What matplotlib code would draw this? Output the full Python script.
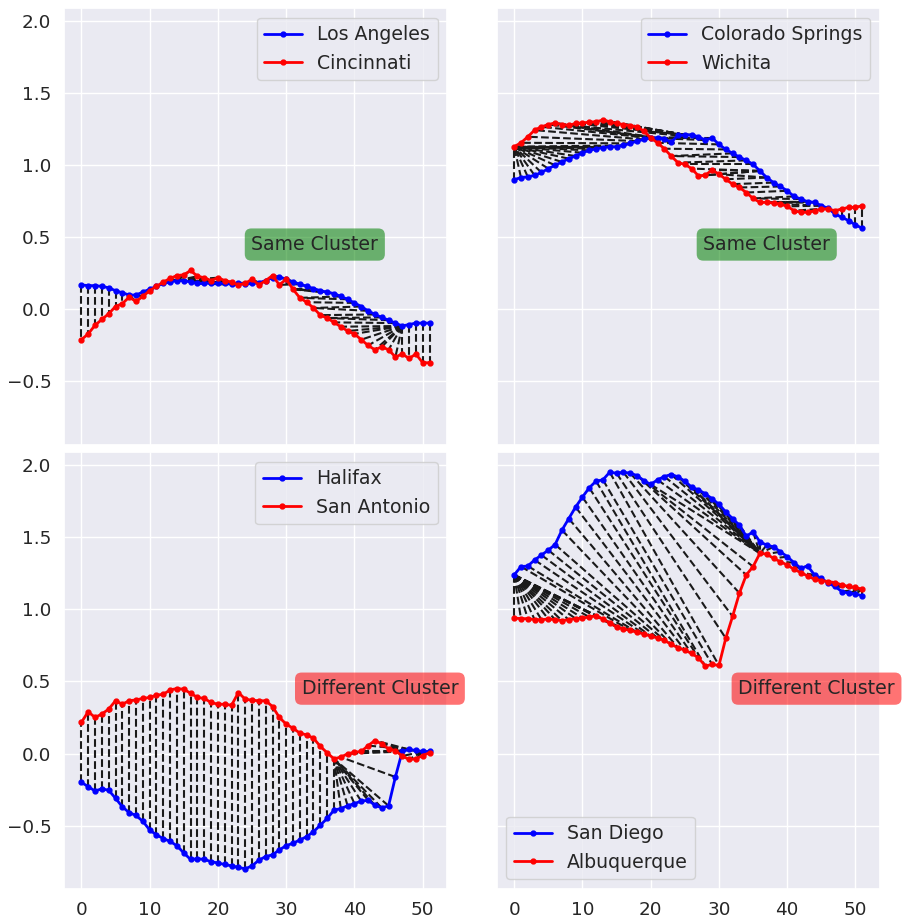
import numpy as np
import matplotlib
matplotlib.use("Agg")
import matplotlib.pyplot as plt
import seaborn as sns

# weekly normalised series, 52 points each
weeks = np.arange(52)

los_angeles = [0.17, 0.165, 0.165, 0.16, 0.15, 0.13, 0.115, 0.10, 0.10, 0.12,
               0.14, 0.16, 0.18, 0.19, 0.20, 0.20, 0.19, 0.18, 0.18, 0.185,
               0.18, 0.18, 0.175, 0.18, 0.175, 0.18, 0.185, 0.20, 0.22, 0.225,
               0.21, 0.19, 0.175, 0.16, 0.145, 0.13, 0.12, 0.11, 0.09, 0.07,
               0.045, 0.02, -0.01, -0.035, -0.055, -0.075, -0.095, -0.115, -0.105, -0.095,
               -0.095, -0.095]
cincinnati = [-0.21, -0.17, -0.11, -0.07, -0.03, 0.02, 0.04, 0.085, 0.055, 0.09,
              0.13, 0.16, 0.19, 0.215, 0.235, 0.24, 0.27, 0.23, 0.22, 0.20,
              0.22, 0.20, 0.19, 0.17, 0.18, 0.21, 0.17, 0.20, 0.235, 0.17,
              0.21, 0.14, 0.08, 0.05, 0.01, -0.04, -0.06, -0.09, -0.12, -0.15,
              -0.17, -0.21, -0.25, -0.28, -0.26, -0.28, -0.33, -0.31, -0.34, -0.31,
              -0.37, -0.37]

colorado_springs = [0.90, 0.915, 0.92, 0.93, 0.95, 0.977, 1.0, 1.023, 1.046, 1.064,
                    1.087, 1.103, 1.115, 1.122, 1.129, 1.129, 1.138, 1.152, 1.168, 1.179,
                    1.19, 1.19, 1.184, 1.16, 1.207, 1.211, 1.211, 1.198, 1.175, 1.19,
                    1.145, 1.11, 1.083, 1.057, 1.034, 1.007, 0.961, 0.915, 0.88, 0.853,
                    0.823, 0.784, 0.766, 0.747, 0.743, 0.72, 0.701, 0.662, 0.639, 0.616,
                    0.586, 0.563]
wichita = [1.129, 1.156, 1.198, 1.244, 1.267, 1.283, 1.294, 1.283, 1.278, 1.29,
           1.294, 1.299, 1.303, 1.313, 1.303, 1.29, 1.283, 1.276, 1.267, 1.237,
           1.19, 1.156, 1.115, 1.064, 1.018, 1.007, 0.977, 0.926, 0.931, 0.968,
           0.938, 0.903, 0.869, 0.846, 0.811, 0.77, 0.743, 0.743, 0.738, 0.731,
           0.715, 0.685, 0.674, 0.674, 0.685, 0.697, 0.697, 0.685, 0.697, 0.708,
           0.708, 0.72]

halifax = [-0.20, -0.23, -0.26, -0.245, -0.255, -0.31, -0.37, -0.41, -0.43, -0.47,
           -0.53, -0.565, -0.59, -0.61, -0.64, -0.69, -0.735, -0.73, -0.735, -0.75,
           -0.76, -0.77, -0.78, -0.79, -0.80, -0.78, -0.74, -0.715, -0.703, -0.669,
           -0.639, -0.623, -0.60, -0.577, -0.543, -0.497, -0.451, -0.393, -0.382, -0.363,
           -0.347, -0.331, -0.324, -0.359, -0.377, -0.363, -0.163, 0.014, 0.028, 0.021,
           0.014, 0.014]
san_antonio = [0.216, 0.29, 0.25, 0.274, 0.308, 0.366, 0.342, 0.366, 0.372, 0.382,
               0.389, 0.405, 0.411, 0.441, 0.451, 0.446, 0.418, 0.389, 0.382, 0.354,
               0.342, 0.342, 0.335, 0.423, 0.377, 0.37, 0.366, 0.366, 0.326, 0.25,
               0.204, 0.175, 0.142, 0.129, 0.106, 0.05, 0.005, -0.037, -0.025, -0.002,
               0.009, 0.014, 0.055, 0.09, 0.067, 0.032, 0.02, -0.018, -0.041, -0.037,
               -0.014, 0.005]

san_diego = [1.239, 1.297, 1.301, 1.343, 1.377, 1.411, 1.45, 1.55, 1.63, 1.71,
             1.779, 1.844, 1.89, 1.899, 1.952, 1.945, 1.952, 1.945, 1.929, 1.894,
             1.867, 1.899, 1.922, 1.936, 1.92, 1.89, 1.848, 1.83, 1.802, 1.768,
             1.729, 1.676, 1.63, 1.584, 1.508, 1.538, 1.469, 1.446, 1.434, 1.40,
             1.366, 1.324, 1.285, 1.301, 1.239, 1.216, 1.182, 1.159, 1.124, 1.113,
             1.108, 1.094]
albuquerque = [0.94, 0.936, 0.936, 0.929, 0.929, 0.933, 0.929, 0.922, 0.929, 0.936,
               0.94, 0.947, 0.956, 0.933, 0.906, 0.878, 0.864, 0.855, 0.841, 0.83,
               0.814, 0.802, 0.786, 0.757, 0.734, 0.717, 0.694, 0.664, 0.607, 0.618,
               0.611, 0.80, 0.952, 1.113, 1.239, 1.297, 1.389, 1.384, 1.354, 1.331,
               1.308, 1.278, 1.255, 1.232, 1.209, 1.20, 1.193, 1.186, 1.17, 1.159,
               1.152, 1.14]

pairs = [
    ("Los Angeles", los_angeles, "Cincinnati", cincinnati, "Same Cluster", "green", 0.655, "upper right"),
    ("Colorado Springs", colorado_springs, "Wichita", wichita, "Same Cluster", "green", 0.705, "upper right"),
    ("Halifax", halifax, "San Antonio", san_antonio, "Different Cluster", "red", 0.825, "upper right"),
    ("San Diego", san_diego, "Albuquerque", albuquerque, "Different Cluster", "red", 0.835, "lower left"),
]

window = 16  # Sakoe-Chiba band half width, in weeks


def dtw_path(a, b, w):
    a = np.asarray(a)
    b = np.asarray(b)
    n, m = len(a), len(b)
    cost = np.full((n + 1, m + 1), np.inf)
    cost[0, 0] = 0.0
    for i in range(1, n + 1):
        for j in range(max(1, i - w), min(m, i + w) + 1):
            d = abs(a[i - 1] - b[j - 1])
            cost[i, j] = d + min(cost[i - 1, j], cost[i, j - 1], cost[i - 1, j - 1])
    i, j = n, m
    path = []
    while i > 0 and j > 0:
        path.append((i - 1, j - 1))
        step = np.argmin([cost[i - 1, j - 1], cost[i - 1, j], cost[i, j - 1]])
        if step == 0:
            i -= 1
            j -= 1
        elif step == 1:
            i -= 1
        else:
            j -= 1
    return path[::-1]


sns.set_theme(style="darkgrid")
fs = 13.6

fig, axes = plt.subplots(2, 2, figsize=(9.06, 9.18), dpi=100, sharex=True, sharey=True)
fig.subplots_adjust(left=0.0706, right=0.971, top=0.991, bottom=0.032,
                    wspace=0.13, hspace=0.018)

for ax, (name_a, a, name_b, b, label, col, tx, loc) in zip(axes.flat, pairs):
    # warping path between the two cities
    for i, j in dtw_path(a, b, window):
        ax.plot([weeks[i], weeks[j]], [a[i], b[j]], "k--", lw=1.5)
    ax.plot(weeks, a, color="blue", marker="o", markersize=3.5, lw=2, label=name_a)
    ax.plot(weeks, b, color="red", marker="o", markersize=3.5, lw=2, label=name_b)
    ax.legend(loc=loc, fontsize=fs, frameon=True)
    ax.text(tx, 0.45, label, transform=ax.get_yaxis_transform(), ha="center", va="center",
            fontsize=fs, color=".15", clip_on=False, zorder=5,
            bbox=dict(boxstyle="round,pad=0.35", facecolor=col, edgecolor="none", alpha=0.55))
    ax.tick_params(labelsize=13.2, pad=3)

axes[0, 0].set_yticks([-0.5, 0.0, 0.5, 1.0, 1.5, 2.0])
axes[0, 0].set_xticks([0, 10, 20, 30, 40, 50])

fig.savefig("out.png", dpi=100)
